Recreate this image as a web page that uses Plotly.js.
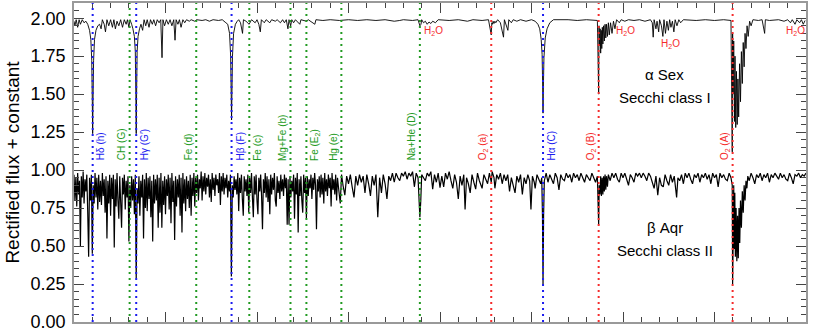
<!DOCTYPE html>
<html>
<head>
<meta charset="utf-8">
<script src="https://cdn.plot.ly/plotly-3.0.1.min.js"></script>
<style>
  html, body { margin: 0; padding: 0; background: white; }
  #chart { width: 830px; height: 332px; }
</style>
</head>
<body>
<div id="chart"></div>
<script>
// Rectified spectra of alpha Sex (shifted by +1) and beta Aqr, wavelength in Angstrom

const alphaWave = [
  4000,4005,4012,4020,4028,4035,4045,4055,4065,4075,
  4085,4092,4097,4100,4102,4104,4107,4112,4120,4130,
  4140,4148,4155,4165,4172,4180,4190,4200,4210,4218,
  4226,4235,4245,4255,4265,4275,4285,4292,4300,4306,
  4315,4322,4330,4335,4338,4340,4342,4345,4350,4358,
  4366,4375,4383,4392,4400,4410,4418,4428,4436,4446,
  4455,4465,4474,4481,4486,4495,4505,4515,4525,4535,
  4545,4552,4558,4568,4576,4585,4595,4605,4615,4630,
  4640,4660,4670,4700,4720,4740,4760,4790,4810,4830,
  4840,4850,4856,4859,4861,4863,4866,4872,4882,4892,
  4900,4910,4921,4926,4940,4957,4970,4990,5000,5010,
  5018,5024,5040,5050,5070,5080,5100,5110,5128,5140,
  5150,5160,5169,5175,5184,5190,5200,5210,5234,5240,
  5270,5280,5316,5322,5360,5400,5450,5500,5550,5600,
  5650,5700,5750,5780,5800,5850,5880,5890,5896,5900,
  5910,5920,5930,5940,5950,5960,5975,5990,6050,6100,
  6150,6180,6230,6265,6280,6283,6287,6290,6295,6300,
  6305,6315,6330,6347,6352,6371,6376,6390,6400,6420,
  6440,6470,6500,6520,6535,6545,6553,6558,6561,6563,
  6565,6568,6575,6585,6600,6620,6700,6750,6800,6860,
  6867,6869,6872,6875,6878,6881,6884,6887,6890,6894,
  6898,6902,6906,6910,6915,6920,6925,6932,6940,6948,
  6956,6965,6980,6990,7010,7030,7060,7090,7120,7150,
  7160,7165,7170,7180,7186,7195,7200,7210,7218,7224,
  7232,7240,7248,7255,7262,7270,7278,7285,7295,7305,
  7315,7330,7400,7450,7500,7550,7590,7597,7599,7602,
  7605,7609,7612,7616,7620,7624,7628,7632,7637,7642,
  7647,7652,7657,7662,7667,7672,7678,7684,7692,7700,
  7710,7740,7760,7774,7778,7800,7850,7880,7900,7915,
  7925,7940,7950,7965,7975,7985,7995
];
const alphaFlux = [
  1.98,1.95,1.99,1.94,1.99,1.96,1.99,1.97,1.98,1.96,
  1.92,1.86,1.72,1.45,1.24,1.45,1.72,1.86,1.92,1.95,
  1.96,1.93,1.99,1.96,1.91,1.99,1.95,1.99,1.94,1.99,
  1.93,1.98,1.95,1.99,1.94,1.99,1.96,1.99,1.94,1.99,
  1.96,1.93,1.88,1.78,1.50,1.24,1.50,1.78,1.88,1.93,
  1.96,1.92,1.99,1.95,1.99,1.94,1.99,1.96,1.99,1.95,
  1.99,1.97,1.99,1.74,1.99,1.95,1.99,1.96,1.99,1.95,
  1.99,1.855,1.99,1.96,1.99,1.94,1.99,1.97,1.99,1.98,
  1.99,1.98,1.99,1.985,1.99,1.98,1.99,1.985,1.99,1.97,
  1.96,1.90,1.75,1.50,1.33,1.50,1.75,1.90,1.96,1.98,
  1.99,1.97,1.90,1.99,1.98,1.96,1.99,1.97,1.99,1.96,
  1.91,1.99,1.97,1.99,1.97,1.99,1.98,1.99,1.97,1.99,
  1.97,1.99,1.93,1.99,1.95,1.99,1.97,1.99,1.96,1.99,
  1.98,1.99,1.96,1.99,1.985,1.99,1.985,1.99,1.985,1.99,
  1.985,1.99,1.98,1.985,1.99,1.985,1.99,1.95,1.96,1.99,
  1.97,1.98,1.96,1.975,1.965,1.98,1.97,1.99,1.985,1.99,
  1.98,1.99,1.985,1.99,1.89,1.97,1.96,1.98,1.965,1.98,
  1.97,1.99,1.97,1.875,1.99,1.92,1.99,1.97,1.99,1.98,
  1.99,1.98,1.99,1.98,1.96,1.93,1.86,1.76,1.55,1.375,
  1.55,1.74,1.87,1.93,1.97,1.99,1.99,1.985,1.99,1.985,
  1.50,1.95,1.82,1.93,1.77,1.92,1.80,1.94,1.83,1.95,
  1.85,1.96,1.87,1.96,1.88,1.97,1.89,1.97,1.90,1.98,
  1.93,1.99,1.97,1.99,1.98,1.99,1.985,1.99,1.98,1.99,
  1.97,1.875,1.99,1.93,1.98,1.91,1.99,1.95,1.88,1.99,
  1.90,1.98,1.92,1.99,1.94,1.98,1.91,1.99,1.95,1.99,
  1.97,1.99,1.985,1.99,1.985,1.99,1.985,1.12,1.90,1.50,
  1.85,1.32,1.75,1.28,1.65,1.30,1.60,1.35,1.70,1.45,
  1.78,1.57,1.84,1.68,1.90,1.80,1.95,1.88,1.98,1.95,
  1.99,1.985,1.99,1.90,1.99,1.985,1.99,1.98,1.99,1.97,
  1.99,1.96,1.99,1.97,1.99,1.96,1.985
];

const betaWave = [
  4000,4005,4010,4015,4020,4025,4030,4035,4040,4045,
  4050,4055,4060,4065,4070,4075,4080,4085,4090,4095,
  4100,4105,4110,4115,4120,4125,4130,4135,4140,4145,
  4150,4155,4160,4165,4170,4175,4180,4185,4190,4195,
  4200,4205,4210,4215,4220,4225,4230,4235,4240,4245,
  4250,4255,4260,4265,4270,4275,4280,4285,4290,4295,
  4300,4305,4310,4315,4320,4325,4330,4335,4340,4345,
  4350,4355,4360,4365,4370,4375,4380,4385,4390,4395,
  4400,4405,4410,4415,4420,4425,4430,4435,4440,4445,
  4450,4455,4460,4465,4470,4475,4480,4485,4490,4495,
  4500,4505,4510,4515,4520,4525,4530,4535,4540,4545,
  4550,4555,4560,4565,4570,4575,4580,4585,4590,4595,
  4600,4605,4610,4615,4620,4625,4630,4635,4640,4645,
  4650,4655,4660,4665,4670,4675,4680,4685,4690,4695,
  4700,4705,4710,4715,4720,4725,4730,4735,4740,4745,
  4750,4755,4760,4765,4770,4775,4780,4785,4790,4795,
  4800,4805,4810,4815,4820,4825,4830,4835,4840,4845,
  4850,4855,4860,4865,4870,4875,4880,4885,4890,4895,
  4900,4905,4910,4915,4920,4925,4930,4935,4940,4945,
  4950,4955,4960,4965,4970,4975,4980,4985,4990,4995,
  5000,5005,5010,5015,5020,5025,5030,5035,5040,5045,
  5050,5055,5060,5065,5070,5075,5080,5085,5090,5095,
  5100,5105,5110,5115,5120,5125,5130,5135,5140,5145,
  5150,5155,5160,5165,5170,5175,5180,5185,5190,5195,
  5200,5205,5210,5215,5220,5225,5230,5235,5240,5245,
  5250,5255,5260,5265,5270,5275,5280,5285,5290,5295,
  5300,5305,5310,5315,5320,5325,5330,5335,5340,5345,
  5350,5355,5360,5365,5370,5375,5380,5385,5390,5395,
  5400,5405,5410,5415,5420,5425,5430,5435,5440,5445,
  5455,5462,5470,5480,5490,5500,5510,5520,5530,5540,
  5550,5560,5570,5580,5590,5600,5610,5620,5630,5640,
  5650,5660,5670,5680,5690,5700,5710,5720,5730,5740,
  5750,5760,5770,5780,5790,5800,5810,5820,5830,5840,
  5850,5860,5870,5880,5890,5895,5900,5910,5920,5930,
  5940,5950,5960,5970,5980,5990,6000,6010,6020,6030,
  6040,6050,6060,6070,6080,6090,6100,6110,6120,6130,
  6137,6145,6155,6165,6175,6185,6195,6205,6215,6230,
  6240,6250,6260,6270,6280,6285,6295,6300,6310,6320,
  6330,6340,6350,6360,6370,6380,6390,6400,6410,6420,
  6430,6440,6450,6460,6470,6480,6490,6497,6505,6515,
  6520,6530,6540,6550,6556,6560,6563,6566,6570,6580,
  6590,6600,6610,6620,6630,6640,6650,6660,6670,6680,
  6690,6700,6710,6720,6730,6740,6750,6760,6770,6780,
  6790,6800,6810,6820,6830,6840,6850,6860,6867,6870,
  6874,6878,6882,6886,6890,6894,6898,6902,6906,6910,
  6915,6920,6930,6940,6950,6960,6970,6980,6990,7000,
  7010,7020,7030,7040,7050,7060,7070,7080,7090,7100,
  7110,7120,7130,7140,7150,7160,7170,7180,7190,7200,
  7210,7220,7230,7240,7250,7260,7270,7280,7293,7300,
  7310,7320,7330,7340,7350,7360,7370,7380,7390,7400,
  7410,7420,7430,7440,7450,7460,7470,7480,7490,7500,
  7510,7520,7530,7540,7550,7560,7570,7580,7590,7597,
  7599,7602,7605,7608,7611,7614,7618,7622,7626,7630,
  7634,7638,7642,7647,7652,7657,7662,7667,7672,7677,
  7682,7690,7700,7710,7720,7730,7740,7750,7760,7770,
  7780,7790,7800,7810,7820,7830,7840,7850,7860,7870,
  7880,7890,7900,7910,7920,7930,7940,7950,7960,7970,
  7980,7990,8000
];
const betaFlux = [
  .97,.80,.95,.76,.98,.84,.93,.50,.96,.82,
  .99,.78,.94,.86,.97,.72,.43,.95,.80,.97,
  .45,.90,.78,.98,.82,.95,.74,.97,.79,.93,
  .77,.98,.83,.94,.72,.96,.55,.93,.78,.97,
  .70,.95,.81,.97,.49,.94,.76,.98,.80,.68,
  .96,.79,.62,.95,.84,.97,.74,.93,.82,.96,
  .53,.90,.75,.96,.80,.94,.71,.97,.29,.88,
  .78,.96,.70,.93,.82,.97,.55,.94,.75,.98,
  .73,.95,.81,.96,.69,.93,.53,.97,.78,.94,
  .80,.97,.62,.95,.72,.98,.62,.93,.77,.96,
  .71,.94,.83,.97,.74,.95,.65,.98,.79,.93,
  .54,.96,.76,.94,.82,.97,.70,.95,.59,.98,
  .78,.94,.73,.96,.81,.93,.75,.97,.70,.95,
  .83,.98,.76,.95,.85,.97,.80,.94,.88,.99,
  .80,.96,.86,.98,.84,.95,.89,.97,.82,.94,
  .79,.98,.87,.95,.83,.97,.90,.94,.85,.98,
  .77,.96,.86,.98,.84,.95,.88,.97,.82,.93,
  .86,.97,.30,.90,.82,.96,.87,.94,.84,.98,
  .73,.95,.85,.97,.81,.70,.96,.86,.94,.83,
  .97,.72,.95,.85,.98,.82,.69,.96,.84,.97,
  .80,.71,.95,.86,.97,.83,.61,.94,.85,.98,
  .82,.96,.79,.94,.71,.97,.84,.95,.87,.98,
  .80,.76,.96,.85,.93,.81,.97,.86,.94,.83,
  .97,.88,.95,.64,.94,.64,.96,.82,.93,.86,
  .97,.68,.95,.84,.98,.59,.94,.83,.96,.80,
  .72,.97,.85,.95,.68,.96,.83,.94,.88,.97,
  .81,.95,.87,.98,.90,.61,.94,.86,.96,.82,
  .97,.84,.95,.78,.98,.86,.94,.83,.97,.88,
  .95,.76,.98,.87,.94,.84,.97,.80,.95,.89,
  .78,.97,.90,.835,.96,.91,.97,.89,.82,.96,
  .90,.97,.92,.96,.85,.97,.91,.83,.96,.90,
  .97,.69,.95,.85,.97,.91,.81,.96,.93,.98,
  .92,.98,.95,.93,.98,.96,.99,.94,.98,.96,
  .99,.89,.98,.95,.69,.80,.97,.95,.93,.98,
  .96,.99,.875,.97,.92,.98,.885,.96,.89,.98,
  .94,.99,.93,.88,.97,.92,.81,.96,.90,.97,
  .74,.95,.91,.85,.97,.92,.875,.98,.93,.88,
  .97,.94,.91,.98,.92,.99,.95,.88,.97,.94,
  .98,.91,.97,.93,.97,.86,.95,.90,.85,.96,
  .92,.97,.84,.95,.91,.97,.93,.74,.96,.92,
  .88,.97,.94,.91,.95,.70,.25,.70,.93,.98,
  .92,.97,.94,.91,.98,.95,.87,.97,.94,.93,
  .98,.95,.97,.92,.98,.95,.97,.93,.98,.95,
  .92,.97,.95,.93,.98,.95,.92,.96,.64,.90,
  .84,.96,.83,.95,.84,.96,.86,.97,.87,.96,
  .89,.97,.93,.98,.95,.98,.94,.92,.98,.95,
  .98,.94,.90,.97,.95,.92,.98,.96,.98,.95,
  .98,.96,.93,.98,.96,.92,.88,.96,.835,.95,
  .90,.89,.97,.93,.90,.97,.92,.96,.82,.95,
  .93,.97,.91,.98,.95,.98,.94,.91,.97,.95,
  .98,.92,.97,.95,.98,.94,.97,.91,.98,.95,
  .97,.89,.98,.95,.97,.94,.93,.98,.95,.90,
  .25,.55,.90,.48,.85,.43,.75,.40,.70,.42,
  .75,.52,.80,.62,.86,.72,.90,.80,.93,.88,
  .96,.93,.98,.95,.91,.97,.95,.98,.93,.97,
  .95,.98,.92,.97,.95,.98,.96,.94,.98,.95,
  .97,.94,.93,.98,.95,.91,.97,.96,.98,.95,
  .97,.96,.98
];

// Fraunhofer / telluric features marked with dotted lines
const featureWave = [4102, 4304, 4340, 4668, 4861, 4958, 5183, 5270, 5461, 5890, 6280, 6563, 6867, 7599];
const featureName = ['Hδ (h)', 'CH (G)', 'Hγ (G′)', 'Fe (d)', 'Hβ (F)', 'Fe (c)', 'Mg+Fe (b)',
    'Fe (E<sub>2</sub>)', 'Hg (e)', 'Na+He (D)', 'O<sub>2</sub> (a)', 'Hα (C)', 'O<sub>2</sub> (B)', 'O<sub>2</sub> (A)'];
const featureKind = ['H', 'M', 'H', 'M', 'H', 'M', 'M', 'M', 'M', 'M', 'O', 'H', 'O', 'O'];
const featureSide = [1, -1, 1, -1, 1, 1, -1, 1, -1, -1, -1, 1, -1, -1];

// water vapour bands in the alpha Sex spectrum
const waterWave = [5962, 7011, 7257, 7940];
const waterLevel = [1.914, 1.914, 1.829, 1.914];

const kindColor = { H: '#1c1cf0', M: '#229a22', O: '#f52c2c' };
const fontFamily = '"Liberation Sans", Arial, Helvetica, sans-serif';

function buildFeatureShapes() {
    return featureWave.map((w, i) => ({
        type: 'line',
        xref: 'x', yref: 'paper',
        x0: w, x1: w, y0: 0, y1: 1,
        layer: 'above',
        line: { color: kindColor[featureKind[i]], width: 2, dash: '2px,4px' }
    }));
}

function buildAnnotations() {
    const notes = featureWave.map((w, i) => ({
        x: w, y: 1.05, xref: 'x', yref: 'y',
        text: featureName[i],
        textangle: -90,
        showarrow: false,
        xanchor: 'center', yanchor: 'bottom',
        xshift: featureSide[i] * 8,
        font: { family: fontFamily, size: 10, color: kindColor[featureKind[i]] }
    }));

    waterWave.forEach((w, i) => {
        notes.push({
            x: w, y: waterLevel[i], xref: 'x', yref: 'y',
            text: 'H<sub>2</sub>O', showarrow: false,
            xanchor: 'center', yanchor: 'middle',
            font: { family: fontFamily, size: 10, color: kindColor.O }
        });
    });

    const starText = [
        ['α Sex', 1.632], ['Secchi class I', 1.48],
        ['β Aqr', 0.625], ['Secchi class II', 0.468]
    ];
    starText.forEach(([t, y]) => {
        notes.push({
            x: 7228, y: y, xref: 'x', yref: 'y',
            text: t, showarrow: false,
            xanchor: 'center', yanchor: 'middle',
            font: { family: fontFamily, size: 15, color: 'black' }
        });
    });
    return notes;
}

function createSpectrumPlot(elementId) {
    const traces = [
        {
            type: 'scatter', mode: 'lines',
            x: alphaWave, y: alphaFlux,
            line: { color: '#000', width: 0.9, simplify: false },
            hoverinfo: 'skip'
        },
        {
            type: 'scatter', mode: 'lines',
            x: betaWave, y: betaFlux,
            line: { color: '#000', width: 1.2, simplify: false },
            hoverinfo: 'skip'
        }
    ];

    const layout = {
        width: 830,
        height: 332,
        margin: { l: 74, r: 24, t: 3, b: 10 },
        paper_bgcolor: 'white',
        plot_bgcolor: 'white',
        showlegend: false,
        font: { family: fontFamily, color: 'black' },
        xaxis: {
            range: [4000, 8000],
            showgrid: false, zeroline: false,
            showline: true, linecolor: '#999', linewidth: 1.5, mirror: 'ticks',
            ticks: 'inside', ticklen: 10, tickcolor: '#444', tickwidth: 1,
            tick0: 4000, dtick: 500,
            minor: { ticks: 'inside', ticklen: 5, dtick: 100, tickcolor: '#444', tickwidth: 1 },
            showticklabels: false
        },
        yaxis: {
            range: [0, 2.1],
            showgrid: false, zeroline: false,
            showline: true, linecolor: '#999', linewidth: 1.5, mirror: 'ticks',
            ticks: 'inside', ticklen: 10, tickcolor: '#444', tickwidth: 1,
            tick0: 0, dtick: 0.25, tickformat: '.2f',
            minor: { ticks: 'inside', ticklen: 5, dtick: 0.05, tickcolor: '#444', tickwidth: 1 },
            tickfont: { size: 18 },
            ticklabelstandoff: 3,
            ticklabeloverflow: 'allow',
            title: { text: 'Rectified flux + constant', font: { size: 19 }, standoff: 6 }
        },
        shapes: buildFeatureShapes(),
        annotations: buildAnnotations()
    };

    const config = { displayModeBar: false, responsive: false };

    Plotly.newPlot(elementId, traces, layout, config);
}

createSpectrumPlot('chart');
</script>
</body>
</html>
